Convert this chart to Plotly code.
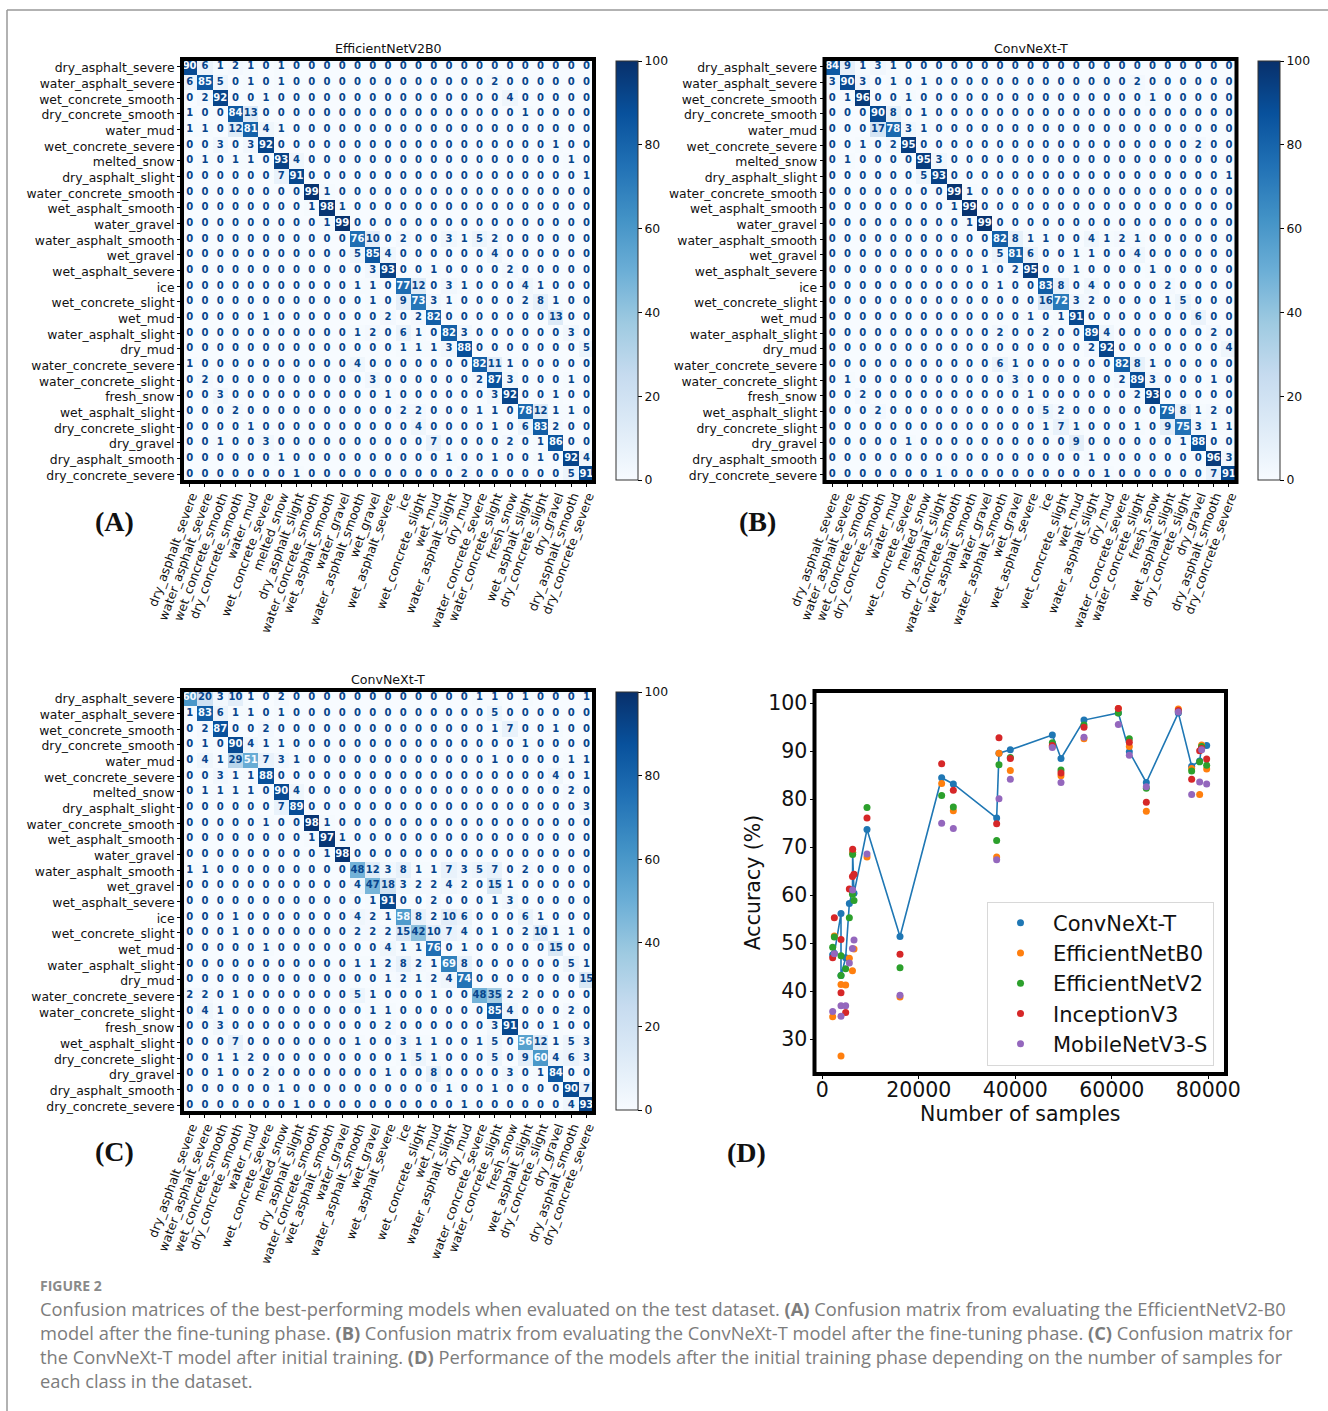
import plotly.graph_objects as go

W, H = 1328, 1411

classes = ["dry_asphalt_severe","water_asphalt_severe","wet_concrete_smooth","dry_concrete_smooth","water_mud",
           "wet_concrete_severe","melted_snow","dry_asphalt_slight","water_concrete_smooth","wet_asphalt_smooth",
           "water_gravel","water_asphalt_smooth","wet_gravel","wet_asphalt_severe","ice","wet_concrete_slight",
           "wet_mud","water_asphalt_slight","dry_mud","water_concrete_severe","water_concrete_slight","fresh_snow",
           "wet_asphalt_slight","dry_concrete_slight","dry_gravel","dry_asphalt_smooth","dry_concrete_severe"]

matrix_a = [
 [90,6,1,2,1, 0,1,0,0,0, 0,0,0,0,0, 0,0,0,0,0, 0,0,0,0,0, 0,0],
 [6,85,5,0,1, 0,1,0,0,0, 0,0,0,0,0, 0,0,0,0,0, 2,0,0,0,0, 0,0],
 [0,2,92,0,0, 1,0,0,0,0, 0,0,0,0,0, 0,0,0,0,0, 0,4,0,0,0, 0,0],
 [1,0,0,84,13, 0,0,0,0,0, 0,0,0,0,0, 0,0,0,0,0, 0,0,1,0,0, 0,0],
 [1,1,0,12,81, 4,1,0,0,0, 0,0,0,0,0, 0,0,0,0,0, 0,0,0,0,0, 0,0],
 [0,0,3,0,3, 92,0,0,0,0, 0,0,0,0,0, 0,0,0,0,0, 0,0,0,0,1, 0,0],
 [0,1,0,1,1, 0,93,4,0,0, 0,0,0,0,0, 0,0,0,0,0, 0,0,0,0,0, 1,0],
 [0,0,0,0,0, 0,7,91,0,0, 0,0,0,0,0, 0,0,0,0,0, 0,0,0,0,0, 0,1],
 [0,0,0,0,0, 0,0,0,99,1, 0,0,0,0,0, 0,0,0,0,0, 0,0,0,0,0, 0,0],
 [0,0,0,0,0, 0,0,0,1,98, 1,0,0,0,0, 0,0,0,0,0, 0,0,0,0,0, 0,0],
 [0,0,0,0,0, 0,0,0,0,1, 99,0,0,0,0, 0,0,0,0,0, 0,0,0,0,0, 0,0],
 [0,0,0,0,0, 0,0,0,0,0, 0,76,10,0,2, 0,0,3,1,5, 2,0,0,0,0, 0,0],
 [0,0,0,0,0, 0,0,0,0,0, 0,5,85,4,0, 0,0,0,0,0, 4,0,0,0,0, 0,0],
 [0,0,0,0,0, 0,0,0,0,0, 0,0,3,93,0, 0,1,0,0,0, 0,2,0,0,0, 0,0],
 [0,0,0,0,0, 0,0,0,0,0, 0,1,1,0,77, 12,0,3,1,0, 0,0,4,1,0, 0,0],
 [0,0,0,0,0, 0,0,0,0,0, 0,0,1,0,9, 73,3,1,0,0, 0,0,2,8,1, 0,0],
 [0,0,0,0,0, 1,0,0,0,0, 0,0,0,2,0, 2,82,0,0,0, 0,0,0,0,13, 0,0],
 [0,0,0,0,0, 0,0,0,0,0, 0,1,2,0,6, 1,0,82,3,0, 0,0,0,0,0, 3,0],
 [0,0,0,0,0, 0,0,0,0,0, 0,0,0,0,1, 1,1,3,88,0, 0,0,0,0,0, 0,5],
 [1,0,0,0,0, 0,0,0,0,0, 0,4,0,0,0, 0,0,0,0,82, 11,1,0,0,0, 0,0],
 [0,2,0,0,0, 0,0,0,0,0, 0,0,3,0,0, 0,0,0,0,2, 87,3,0,0,0, 1,0],
 [0,0,3,0,0, 0,0,0,0,0, 0,0,0,1,0, 0,0,0,0,0, 3,92,0,0,1, 0,0],
 [0,0,0,2,0, 0,0,0,0,0, 0,0,0,0,2, 2,0,0,0,1, 1,0,78,12,1, 1,0],
 [0,0,0,0,1, 0,0,0,0,0, 0,0,0,0,0, 4,0,0,0,0, 1,0,6,83,2, 0,0],
 [0,0,1,0,0, 3,0,0,0,0, 0,0,0,0,0, 0,7,0,0,0, 0,2,0,1,86, 0,0],
 [0,0,0,0,0, 0,1,0,0,0, 0,0,0,0,0, 0,0,1,0,0, 1,0,0,1,0, 92,4],
 [0,0,0,0,0, 0,0,1,0,0, 0,0,0,0,0, 0,0,0,2,0, 0,0,0,0,0, 5,91],
]

matrix_b = [
 [84,9,1,3,1, 0,0,0,0,0, 0,0,0,0,0, 0,0,0,0,0, 0,0,0,0,0, 0,0],
 [3,90,3,0,1, 0,1,0,0,0, 0,0,0,0,0, 0,0,0,0,0, 2,0,0,0,0, 0,0],
 [0,1,96,0,0, 1,0,0,0,0, 0,0,0,0,0, 0,0,0,0,0, 0,1,0,0,0, 0,0],
 [0,0,0,90,8, 0,1,0,0,0, 0,0,0,0,0, 0,0,0,0,0, 0,0,0,0,0, 0,0],
 [0,0,0,17,78, 3,1,0,0,0, 0,0,0,0,0, 0,0,0,0,0, 0,0,0,0,0, 0,0],
 [0,0,1,0,2, 95,0,0,0,0, 0,0,0,0,0, 0,0,0,0,0, 0,0,0,0,2, 0,0],
 [0,1,0,0,0, 0,95,3,0,0, 0,0,0,0,0, 0,0,0,0,0, 0,0,0,0,0, 0,0],
 [0,0,0,0,0, 0,5,93,0,0, 0,0,0,0,0, 0,0,0,0,0, 0,0,0,0,0, 0,1],
 [0,0,0,0,0, 0,0,0,99,1, 0,0,0,0,0, 0,0,0,0,0, 0,0,0,0,0, 0,0],
 [0,0,0,0,0, 0,0,0,1,99, 0,0,0,0,0, 0,0,0,0,0, 0,0,0,0,0, 0,0],
 [0,0,0,0,0, 0,0,0,0,1, 99,0,0,0,0, 0,0,0,0,0, 0,0,0,0,0, 0,0],
 [0,0,0,0,0, 0,0,0,0,0, 0,82,8,1,1, 0,0,4,1,2, 1,0,0,0,0, 0,0],
 [0,0,0,0,0, 0,0,0,0,0, 0,5,81,6,0, 0,1,1,0,0, 4,0,0,0,0, 0,0],
 [0,0,0,0,0, 0,0,0,0,0, 1,0,2,95,0, 0,1,0,0,0, 0,1,0,0,0, 0,0],
 [0,0,0,0,0, 0,0,0,0,0, 0,1,0,0,83, 8,0,4,0,0, 0,0,2,0,0, 0,0],
 [0,0,0,0,0, 0,0,0,0,0, 0,0,0,0,16, 72,3,2,0,0, 0,0,1,5,0, 0,0],
 [0,0,0,0,0, 0,0,0,0,0, 0,0,0,1,0, 1,91,0,0,0, 0,0,0,0,6, 0,0],
 [0,0,0,0,0, 0,0,0,0,0, 0,2,0,0,2, 0,0,89,4,0, 0,0,0,0,0, 2,0],
 [0,0,0,0,0, 0,0,0,0,0, 0,0,0,0,0, 0,0,2,92,0, 0,0,0,0,0, 0,4],
 [0,0,0,0,0, 0,0,0,0,0, 0,6,1,0,0, 0,0,0,0,82, 8,1,0,0,0, 0,0],
 [0,1,0,0,0, 0,0,0,0,0, 0,0,3,0,0, 0,0,0,0,2, 89,3,0,0,0, 1,0],
 [0,0,2,0,0, 0,0,0,0,0, 0,0,0,1,0, 0,0,0,0,0, 2,93,0,0,0, 0,0],
 [0,0,0,2,0, 0,0,0,0,0, 0,0,0,0,5, 2,0,0,0,0, 0,0,79,8,1, 2,0],
 [0,0,0,0,0, 0,0,0,0,0, 0,0,0,0,1, 7,1,0,0,0, 1,0,9,75,3, 1,1],
 [0,0,0,0,0, 1,0,0,0,0, 0,0,0,0,0, 0,9,0,0,0, 0,0,0,1,88, 0,0],
 [0,0,0,0,0, 0,0,0,0,0, 0,0,0,0,0, 0,0,1,0,0, 0,0,0,0,0, 96,3],
 [0,0,0,0,0, 0,0,1,0,0, 0,0,0,0,0, 0,0,0,1,0, 0,0,0,0,0, 7,91],
]

matrix_c = [
 [60,20,3,10,1, 0,2,0,0,0, 0,0,0,0,0, 0,0,0,0,1, 1,0,1,0,0, 0,1],
 [1,83,6,1,1, 0,1,0,0,0, 0,0,0,0,0, 0,0,0,0,0, 5,0,0,0,0, 0,0],
 [0,2,87,0,0, 2,0,0,0,0, 0,0,0,0,0, 0,0,0,0,0, 1,7,0,0,1, 0,0],
 [0,1,0,90,4, 1,1,0,0,0, 0,0,0,0,0, 0,0,0,0,0, 0,0,1,0,0, 0,0],
 [0,4,1,29,51, 7,3,1,0,0, 0,0,0,0,0, 0,0,0,0,0, 1,0,0,0,0, 1,1],
 [0,0,3,1,1, 88,0,0,0,0, 0,0,0,0,0, 0,0,0,0,0, 0,0,0,0,4, 0,1],
 [0,1,1,1,1, 0,90,4,0,0, 0,0,0,0,0, 0,0,0,0,0, 0,0,0,0,0, 2,0],
 [0,0,0,0,0, 0,7,89,0,0, 0,0,0,0,0, 0,0,0,0,0, 0,0,0,0,0, 0,3],
 [0,0,0,0,0, 1,0,0,98,1, 0,0,0,0,0, 0,0,0,0,0, 0,0,0,0,0, 0,0],
 [0,0,0,0,0, 0,0,0,1,97, 1,0,0,0,0, 0,0,0,0,0, 0,0,0,0,0, 0,0],
 [0,0,0,0,0, 0,0,0,0,1, 98,0,0,0,0, 0,0,0,0,0, 0,0,0,0,0, 0,0],
 [1,1,0,0,0, 0,0,0,0,0, 0,48,12,3,8, 1,1,7,3,5, 7,0,2,0,0, 0,0],
 [0,0,0,0,0, 0,0,0,0,0, 0,4,47,18,3, 2,2,4,2,0, 15,1,0,0,0, 0,0],
 [0,0,0,0,0, 0,0,0,0,0, 0,0,1,91,0, 0,2,0,0,0, 1,3,0,0,0, 0,0],
 [0,0,0,1,0, 0,0,0,0,0, 0,4,2,1,58, 8,2,10,6,0, 0,0,6,1,0, 0,0],
 [0,0,0,1,0, 0,0,0,0,0, 0,2,2,2,15, 42,10,7,4,0, 1,0,2,10,1, 1,0],
 [0,0,0,0,0, 1,0,0,0,0, 0,0,0,4,1, 1,76,0,1,0, 0,0,0,0,15, 0,0],
 [0,0,0,0,0, 0,0,0,0,0, 0,1,1,2,8, 2,1,69,8,0, 0,0,0,0,0, 5,1],
 [0,0,0,0,0, 0,0,0,0,0, 0,0,0,1,2, 1,2,4,74,0, 0,0,0,0,0, 0,15],
 [2,2,0,1,0, 0,0,0,0,0, 0,5,1,0,0, 0,1,0,0,48, 35,2,2,0,0, 0,0],
 [0,4,1,0,0, 0,0,0,0,0, 0,0,1,1,0, 0,0,0,0,0, 85,4,0,0,0, 2,0],
 [0,0,3,0,0, 0,0,0,0,0, 0,0,0,2,0, 0,0,0,0,0, 3,91,0,0,1, 0,0],
 [0,0,0,7,0, 0,0,0,0,0, 0,1,0,0,3, 1,1,0,0,1, 5,0,56,12,1, 5,3],
 [0,0,1,1,2, 0,0,0,0,0, 0,0,0,0,1, 5,1,0,0,0, 5,0,9,60,4, 6,3],
 [0,0,1,0,0, 2,0,0,0,0, 0,0,0,1,0, 0,8,0,0,0, 0,3,0,1,84, 0,0],
 [0,0,0,0,0, 0,1,0,0,0, 0,0,0,0,0, 0,0,1,0,0, 1,0,0,0,0, 90,7],
 [0,0,0,0,0, 0,0,1,0,0, 0,0,0,0,0, 0,0,0,1,0, 0,0,0,0,0, 4,93],
]

for m in (matrix_a, matrix_b, matrix_c):
    assert len(m) == 27 and all(len(r) == 27 for r in m)

samples = [2148,2494,3876,3876,4843,5603,6250,6293,6570,9264,16103,24739,27157,36138,36621,38970,
           47675,49470,54237,61353,63632,67156,73787,76552,78210,78624,79663]
convnext = [47.6,47.9,56.2,43.3,47.0,58.3,60.8,68.9,60.4,73.7,51.4,84.5,83.2,76.1,89.6,90.3,93.4,88.5,96.5,98.0,89.9,83.5,98.0,86.9,88.0,91.0,91.2]
effb0 = [34.7,51.5,41.4,26.5,41.3,46.9,44.3,68.9,48.8,68.0,38.8,83.3,77.6,68.0,89.6,86.0,91.0,84.9,92.6,98.9,91.0,77.5,98.8,86.4,81.0,91.3,86.3]
effv2 = [49.2,51.3,47.4,43.3,44.7,55.3,60.2,68.5,58.9,78.3,44.9,80.8,78.4,71.4,87.2,88.7,91.8,86.1,95.5,98.0,92.6,82.3,98.3,85.9,87.8,91.0,87.1]
incv3 = [47.0,55.3,50.8,39.7,35.6,61.3,63.9,69.6,64.4,76.1,47.7,87.4,81.9,74.9,92.8,88.5,91.2,85.5,95.0,98.9,91.9,79.4,98.5,84.2,90.1,90.6,88.4]
mobile = [35.8,47.8,37.0,34.8,37.0,45.9,48.9,61.1,50.7,68.6,39.2,75.0,73.9,67.4,80.1,84.2,90.8,83.5,92.9,95.6,89.2,82.6,98.2,81.0,83.6,90.3,83.2]

blues = [[0,"#f7fbff"],[0.125,"#deebf7"],[0.25,"#c6dbef"],[0.375,"#9ecae1"],[0.5,"#6baed6"],
         [0.625,"#4292c6"],[0.75,"#2171b5"],[0.875,"#08519c"],[1,"#08306b"]]

SANS = "DejaVu Sans"
TICK = 12.4
CELL_DARK = "#08468c"
CELL_LIGHT = "#f7fbff"

def xdom(a, b): return [a / W, b / W]
def ydom(top, bot): return [1 - bot / H, 1 - top / H]

fig = go.Figure()

panels = [
    dict(z=matrix_a, title="EfficientNetV2B0", x=(182, 594), y=(59, 482), cbx=616, cby=(61, 480)),
    dict(z=matrix_b, title="ConvNeXt-T", x=(824.5, 1236.5), y=(59, 482), cbx=1258, cby=(61, 480)),
    dict(z=matrix_c, title="ConvNeXt-T", x=(182, 594), y=(690, 1113), cbx=616, cby=(692, 1110)),
]

annotations, shapes, layout_axes = [], [], {}

for i, p in enumerate(panels, start=1):
    sfx = "" if i == 1 else str(i)
    xa, ya = f"x{sfx}", f"y{sfx}"
    fig.add_trace(go.Heatmap(
        z=p["z"], x=classes, y=classes, xaxis=xa, yaxis=ya, zmin=0, zmax=100, colorscale=blues,
        hoverinfo="skip",
        colorbar=dict(x=p["cbx"] / W, xanchor="left", xpad=0, ypad=0, thickness=22, thicknessmode="pixels",
                      len=(p["cby"][1] - p["cby"][0]) / H, lenmode="fraction", y=1 - p["cby"][0] / H, yanchor="top",
                      tickmode="array", tickvals=[0, 20, 40, 60, 80, 100], ticks="outside", ticklen=4,
                      tickcolor="black", tickfont=dict(family=SANS, size=TICK, color="#111"),
                      outlinecolor="#333", outlinewidth=1)))
    xs, ys, txt, cols = [], [], [], []
    for r, row in enumerate(p["z"]):
        for c, v in enumerate(row):
            xs.append(classes[c]); ys.append(classes[r]); txt.append(str(v))
            cols.append(CELL_LIGHT if v > 50 else CELL_DARK)
    fig.add_trace(go.Scatter(x=xs, y=ys, text=txt, mode="text", xaxis=xa, yaxis=ya, showlegend=False,
                             textposition="middle center", hoverinfo="skip", cliponaxis=False,
                             textfont=dict(family=SANS, size=10, color=cols, weight="bold")))
    layout_axes[f"xaxis{sfx}"] = dict(domain=xdom(*p["x"]), anchor=ya, type="category", tickmode="array",
                                    tickvals=classes, ticktext=classes, tickangle=-70, ticks="outside", ticklen=4,
                                    tickcolor="black", tickwidth=1, showgrid=False, zeroline=False,
                                    categoryorder="array", categoryarray=classes, ticklabelshift=2,
                                    ticklabelstandoff=-3, range=[-0.5, 26.5],
                                    tickfont=dict(family=SANS, size=TICK, color="#111"))
    layout_axes[f"yaxis{sfx}"] = dict(domain=ydom(*p["y"]), anchor=xa, type="category", tickmode="array",
                                    tickvals=classes, ticktext=classes, range=[26.5, -0.5], ticks="outside",
                                    ticklen=4, tickcolor="black", tickwidth=1, showgrid=False, zeroline=False,
                                    categoryorder="array", categoryarray=classes, ticklabelstandoff=0,
                                    ticklabelshift=-1,
                                    tickfont=dict(family=SANS, size=TICK, color="#111"))
    shapes.append(dict(type="rect", xref=f"{xa} domain", yref=f"{ya} domain", x0=0, x1=1, y0=0, y1=1,
                       line=dict(color="black", width=4), layer="above"))
    annotations.append(dict(text=p["title"], x=sum(p["x"]) / 2 / W, y=1 - (p["y"][0] - 11) / H, xref="paper", yref="paper",
                            showarrow=False, xanchor="center", yanchor="middle",
                            font=dict(family=SANS, size=12.6, color="#111")))

# Panel D
series = [("ConvNeXt-T", convnext, "#1f77b4"), ("EfficientNetB0", effb0, "#ff7f0e"), ("EfficientNetV2", effv2, "#2ca02c"),
          ("InceptionV3", incv3, "#d62728"), ("MobileNetV3-S", mobile, "#9467bd")]
fig.add_trace(go.Scatter(x=samples, y=convnext, mode="lines", xaxis="x4", yaxis="y4", showlegend=False,
                         line=dict(color="#1f77b4", width=1.6), hoverinfo="skip"))
for name, vals, col in series:
    fig.add_trace(go.Scatter(x=samples, y=vals, mode="markers", name=name, xaxis="x4", yaxis="y4",
                             marker=dict(color=col, size=7, line=dict(width=0))))

layout_axes["xaxis4"] = dict(domain=xdom(814.5, 1226), anchor="y4", range=[-1617, 83670], tickmode="array",
                             tickvals=[0, 20000, 40000, 60000, 80000], ticktext=["0", "20000", "40000", "60000", "80000"],
                             ticks="outside", ticklen=4, tickcolor="black", showgrid=False, zeroline=False,
                             ticklabelstandoff=-7,
                             tickfont=dict(family=SANS, size=20.5, color="#111"),
                             title=dict(text="Number of samples", font=dict(family=SANS, size=20.5, color="#111"), standoff=2))
layout_axes["yaxis4"] = dict(domain=ydom(691, 1074), anchor="x4", range=[22.77, 102.56], tickmode="array",
                             tickvals=[30, 40, 50, 60, 70, 80, 90, 100], ticks="outside", ticklen=4, tickcolor="black",
                             showgrid=False, zeroline=False, ticklabelstandoff=-2,
                             tickfont=dict(family=SANS, size=20.5, color="#111"),
                             title=dict(text="Accuracy (%)", font=dict(family=SANS, size=20.5, color="#111"), standoff=2))
shapes.append(dict(type="rect", xref="x4 domain", yref="y4 domain", x0=0, x1=1, y0=0, y1=1,
                   line=dict(color="black", width=4), layer="above"))

# Panel letters
for letter, px, py in [("(A)", 115, 521), ("(B)", 757, 521), ("(C)", 115, 1151), ("(D)", 746, 1152)]:
    annotations.append(dict(text=f"<b>{letter}</b>", x=px / W, y=1 - py / H, xref="paper", yref="paper", showarrow=False,
                            xanchor="center", yanchor="middle",
                            font=dict(family="Liberation Serif", size=28, color="#111")))

# Caption
CAP = "Open Sans"
annotations.append(dict(text="<b>FIGURE 2</b>", x=37.5 / W, y=1 - 1285 / H, xref="paper", yref="paper", showarrow=False,
                        xanchor="left", yanchor="middle", font=dict(family=CAP, size=14, color="#8a8a8a")))
caption_lines = [
    "Confusion matrices of the best-performing models when evaluated on the test dataset. <b>(A)</b> Confusion matrix from evaluating the EfficientNetV2-B0",
    "model after the fine-tuning phase. <b>(B)</b> Confusion matrix from evaluating the ConvNeXt-T model after the fine-tuning phase. <b>(C)</b> Confusion matrix for",
    "the ConvNeXt-T model after initial training. <b>(D)</b> Performance of the models after the initial training phase depending on the number of samples for",
    "each class in the dataset.",
]
for line, py in zip(caption_lines, [1308, 1332, 1356, 1380]):
    annotations.append(dict(text=line, x=37.5 / W, y=1 - py / H, xref="paper", yref="paper", showarrow=False,
                            xanchor="left", yanchor="middle", font=dict(family=CAP, size=18.3, color="#7c7c7c")))

# Page frame
shapes.append(dict(type="line", xref="paper", yref="paper", x0=7 / W, x1=7 / W, y0=0, y1=1 - 10 / H,
                   line=dict(color="#999999", width=1.5)))
shapes.append(dict(type="line", xref="paper", yref="paper", x0=7 / W, x1=1, y0=1 - 10 / H, y1=1 - 10 / H,
                   line=dict(color="#999999", width=1.5)))

fig.update_layout(
    width=W, height=H, margin=dict(l=0, r=0, t=0, b=0, autoexpand=False), paper_bgcolor="white", plot_bgcolor="white",
    annotations=annotations, shapes=shapes,
    legend=dict(x=987 / W, y=1 - 901.5 / H, xanchor="left", yanchor="top", bgcolor="white", bordercolor="#d8d8d8",
                borderwidth=1, font=dict(family=SANS, size=21, color="#111"), itemwidth=55, tracegroupgap=0,
                itemclick=False, itemdoubleclick=False),
    **layout_axes,
)
fig.write_html("out.html", config=dict(displayModeBar=False),
               post_script="document.body.style.margin='0';document.documentElement.style.overflow='hidden';")
